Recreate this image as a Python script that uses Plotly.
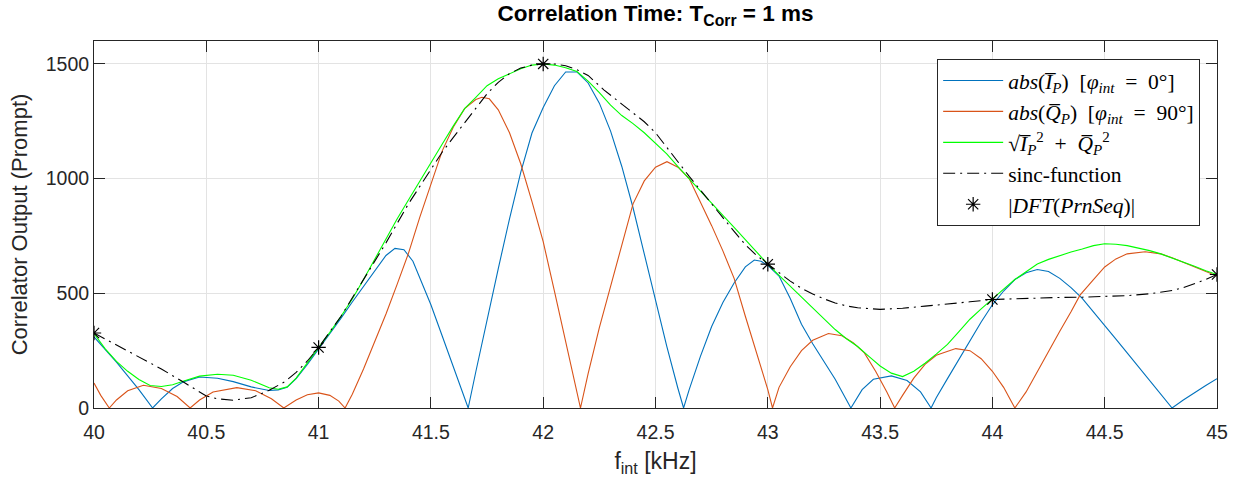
import plotly.graph_objects as go

# ---------------- data ----------------
f_blue = [40.0, 40.05, 40.1, 40.15, 40.2, 40.261, 40.3, 40.35, 40.4, 40.47, 40.55, 40.62, 40.7, 40.78, 40.82,
          40.86, 40.9, 40.95, 41.0, 41.05, 41.1, 41.15, 41.2, 41.25, 41.3, 41.34, 41.38, 41.42, 41.46, 41.5,
          41.55, 41.6, 41.666, 41.7, 41.75, 41.8, 41.85, 41.9, 41.95, 42.0, 42.05, 42.1, 42.15, 42.2, 42.25,
          42.3, 42.35, 42.4, 42.45, 42.5, 42.55, 42.6, 42.625, 42.65, 42.7, 42.75, 42.8, 42.85, 42.9, 42.94,
          42.97, 43.0, 43.05, 43.1, 43.15, 43.2, 43.25, 43.3, 43.37, 43.42, 43.47, 43.55, 43.62, 43.68, 43.727,
          43.75, 43.8, 43.85, 43.9, 43.95, 44.0, 44.05, 44.1, 44.15, 44.2, 44.25, 44.3, 44.35, 44.4, 44.45,
          44.5, 44.55, 44.6, 44.65, 44.7, 44.75, 44.8, 44.85, 44.9, 44.95, 45.0]
v_blue = [310, 255, 200, 140, 80, 0, 40, 85, 115, 135, 130, 115, 92, 76, 79,
          90, 128, 190, 256, 322, 392, 462, 530, 600, 665, 696, 690, 640, 545, 450,
          315, 180, 0, 158, 390, 608, 825, 1027, 1199, 1310, 1405, 1465, 1465, 1417, 1329,
          1207, 1053, 873, 672, 469, 270, 85, 0, 80, 225, 355, 460, 545, 615, 645,
          640, 622, 575, 477, 365, 280, 200, 125, 0, 80, 125, 140, 120, 70, 0,
          45, 128, 212, 295, 375, 450, 510, 560, 590, 604, 595, 565, 525, 478, 420,
          360, 300, 240, 180, 120, 60, 0, 35, 68, 98, 128]

f_orange = [40.0, 40.03, 40.068, 40.1, 40.15, 40.22, 40.3, 40.37, 40.428, 40.47, 40.53, 40.636, 40.72, 40.79,
            40.845, 40.9, 40.95, 41.0, 41.05, 41.09, 41.118, 41.15, 41.2, 41.25, 41.3, 41.35, 41.4, 41.45,
            41.5, 41.55, 41.6, 41.65, 41.7, 41.727, 41.76, 41.8, 41.85, 41.9, 41.95, 42.0, 42.05, 42.1,
            42.15, 42.166, 42.2, 42.25, 42.3, 42.35, 42.4, 42.45, 42.5, 42.551, 42.6, 42.65, 42.7, 42.75,
            42.8, 42.85, 42.9, 42.95, 43.0, 43.021, 43.05, 43.1, 43.15, 43.2, 43.27, 43.33, 43.38, 43.43,
            43.48, 43.53, 43.565, 43.6, 43.65, 43.7, 43.75, 43.837, 43.9, 43.95, 44.0, 44.05, 44.1, 44.15,
            44.2, 44.25, 44.3, 44.35, 44.39, 44.45, 44.5, 44.55, 44.6, 44.68, 44.75, 44.8, 44.85, 44.9,
            44.95, 45.0]
v_orange = [109, 55, 0, 35, 75, 99, 85, 50, 0, 35, 70, 89, 75, 40,
            0, 35, 58, 66, 55, 30, 0, 60, 170, 290, 410, 540, 674, 830,
            980, 1120, 1225, 1305, 1345, 1355, 1348, 1300, 1200, 1065, 900, 725, 510, 295,
            70, 0, 150, 350, 530, 715, 890, 990, 1050, 1074, 1050, 1000, 900, 795,
            685, 565, 400, 240, 80, 0, 90, 180, 250, 295, 325, 315, 285, 240,
            160, 70, 0, 55, 130, 190, 230, 259, 250, 215, 160, 90, 0, 70,
            160, 250, 335, 420, 492, 560, 615, 650, 672, 681, 672, 655, 635, 615,
            595, 575]

f_green = [40.0, 40.05, 40.1, 40.15, 40.2, 40.25, 40.3, 40.35, 40.4, 40.47, 40.55, 40.62, 40.7, 40.78, 40.82,
           40.86, 40.9, 40.95, 41.0, 41.05, 41.1, 41.15, 41.2, 41.25, 41.3, 41.35, 41.4, 41.45, 41.5, 41.55,
           41.6, 41.65, 41.7, 41.75, 41.8, 41.85, 41.9, 41.95, 42.0, 42.05, 42.1, 42.15, 42.2, 42.25, 42.3,
           42.35, 42.4, 42.45, 42.5, 42.55, 42.6, 42.65, 42.7, 42.75, 42.8, 42.85, 42.9, 42.95, 43.0, 43.05,
           43.1, 43.15, 43.2, 43.25, 43.3, 43.35, 43.4, 43.45, 43.5, 43.55, 43.6, 43.65, 43.7, 43.75, 43.8,
           43.85, 43.9, 43.95, 44.0, 44.05, 44.1, 44.15, 44.2, 44.25, 44.3, 44.35, 44.4, 44.45, 44.5, 44.55,
           44.6, 44.65, 44.7, 44.75, 44.8, 44.85, 44.9, 44.95, 45.0]
v_green = [325, 258, 203, 160, 124, 98, 94, 101, 118, 139, 147, 143, 121, 88, 82,
           92, 130, 195, 262, 330, 400, 475, 560, 650, 740, 825, 907, 990, 1070, 1150,
           1230, 1305, 1354, 1405, 1435, 1458, 1479, 1495, 1500, 1495, 1483, 1467, 1425, 1375, 1320,
           1275, 1240, 1200, 1155, 1108, 1052, 1000, 947, 893, 840, 787, 733, 680, 627, 578,
           530, 482, 435, 388, 342, 302, 268, 225, 183, 152, 137, 160, 195, 235, 277,
           332, 387, 432, 473, 518, 560, 594, 628, 648, 665, 680, 693, 708, 716, 714,
           708, 698, 686, 672, 655, 635, 618, 598, 582]

f_sinc = [40.0, 40.1, 40.2, 40.3, 40.4, 40.5, 40.55, 40.62, 40.7, 40.78, 40.85, 40.9, 40.95, 41.0, 41.1,
          41.2, 41.26, 41.3, 41.4, 41.5, 41.55, 41.6, 41.65, 41.7, 41.75, 41.8, 41.85, 41.9, 41.95, 42.0,
          42.05, 42.1, 42.15, 42.2, 42.27, 42.35, 42.4, 42.45, 42.5, 42.55, 42.6, 42.65, 42.7, 42.75, 42.8,
          42.85, 42.9, 42.95, 43.0, 43.05, 43.1, 43.15, 43.2, 43.25, 43.3, 43.35, 43.4, 43.5, 43.6, 43.7,
          43.8, 43.9, 44.0, 44.1, 44.2, 44.3, 44.4, 44.5, 44.6, 44.7, 44.8, 44.85, 44.9, 44.95, 45.0]
v_sinc = [327, 275, 225, 170, 112, 52, 40, 34, 45, 77, 115, 155, 205, 264, 400,
          560, 655, 720, 890, 1040, 1115, 1180, 1245, 1310, 1370, 1420, 1458, 1482, 1495, 1500,
          1500, 1492, 1475, 1450, 1387, 1325, 1285, 1248, 1200, 1135, 1070, 1010, 950, 892, 830,
          770, 712, 665, 627, 590, 553, 522, 497, 476, 458, 445, 437, 430, 435, 444,
          455, 463, 473, 477, 480, 482, 483, 485, 490, 498, 512, 525, 542, 560, 582]

f_dft = [40, 41, 42, 43, 44, 45]
v_dft = [327, 264, 1500, 627, 473, 582]

x_ticks = [40, 40.5, 41, 41.5, 42, 42.5, 43, 43.5, 44, 44.5, 45]
x_tick_text = ["40", "40.5", "41", "41.5", "42", "42.5", "43", "43.5", "44", "44.5", "45"]
y_ticks = [0, 500, 1000, 1500]
y_tick_text = ["0", "500", "1000", "1500"]

# ---------------- figure ----------------
OL = "\u0305"
SP = "\u2002"
fig = go.Figure()
fig.add_trace(go.Scatter(x=f_blue, y=v_blue, mode="lines", line=dict(color="#0072BD", width=1.1),
                         name="<i>abs</i>(<i>I" + OL + "<sub>P</sub></i>)" + SP + "[<i>\u03c6<sub>int</sub></i>" + SP + "=" + SP + "0\u00b0]"))
fig.add_trace(go.Scatter(x=f_orange, y=v_orange, mode="lines", line=dict(color="#D95319", width=1.1),
                         name="<i>abs</i>(<i>Q" + OL + "<sub>P</sub></i>)" + SP + "[<i>\u03c6<sub>int</sub></i>" + SP + "=" + SP + "90\u00b0]"))
fig.add_trace(go.Scatter(x=f_green, y=v_green, mode="lines", line=dict(color="#00FF00", width=1.1),
                         name="\u221a<i>I" + OL + "<sub>P</sub></i><sup>2</sup>" + SP + "+" + SP + "<i>Q" + OL + "<sub>P</sub></i><sup>2</sup>"))
fig.add_trace(go.Scatter(x=f_sinc, y=v_sinc, mode="lines", line=dict(color="black", width=1.1, dash="12px,5px,2px,5px"),
                         name="sinc-function"))
fig.add_trace(go.Scatter(x=f_dft, y=v_dft, mode="markers",
                         marker=dict(symbol="asterisk-open", size=12, color="black", line=dict(color="black", width=1.2)),
                         name="|<i>DFT</i>(<i>PrnSeq</i>)|"))

axis_common = dict(showgrid=True, gridcolor="#e3e3e3", gridwidth=1, showline=True, linecolor="#262626",
                   linewidth=1, mirror="ticks", ticks="inside", ticklen=11, tickcolor="#262626", tickwidth=1,
                   zeroline=False, tickfont=dict(family="Liberation Sans, Arial", size=19.5, color="#262626"))

fig.update_layout(
    width=1242, height=481,
    margin=dict(l=94, r=25, t=41, b=73),
    paper_bgcolor="white", plot_bgcolor="white",
    title=dict(text="<b>Correlation Time: T<sub>Corr</sub> = 1 ms</b>", x=0.5, xref="paper",
               y=0.972, yref="container", yanchor="middle",
               font=dict(family="Liberation Sans, Arial", size=22.5, color="black")),
    xaxis=dict(range=[40, 45], tickvals=x_ticks, ticktext=x_tick_text, ticklabelstandoff=7,
               title=dict(text="f<sub>int</sub> [kHz]", standoff=10,
                          font=dict(family="Liberation Sans, Arial", size=23, color="#262626")),
               **axis_common),
    yaxis=dict(range=[0, 1600], tickvals=y_ticks, ticktext=y_tick_text,
               title=dict(text="Correlator Output (Prompt)", standoff=12,
                          font=dict(family="Liberation Sans, Arial", size=22, color="#262626")),
               **axis_common),
    legend=dict(x=0.985, y=0.951, xanchor="right", yanchor="top", bgcolor="white",
                bordercolor="#262626", borderwidth=1, itemwidth=60,
                font=dict(family="Liberation Serif, DejaVu Serif", size=21.5, color="black")),
    showlegend=True,
)

fig.write_html("out.html", config={"displayModeBar": False},
               post_script="document.body.style.margin='0';")
